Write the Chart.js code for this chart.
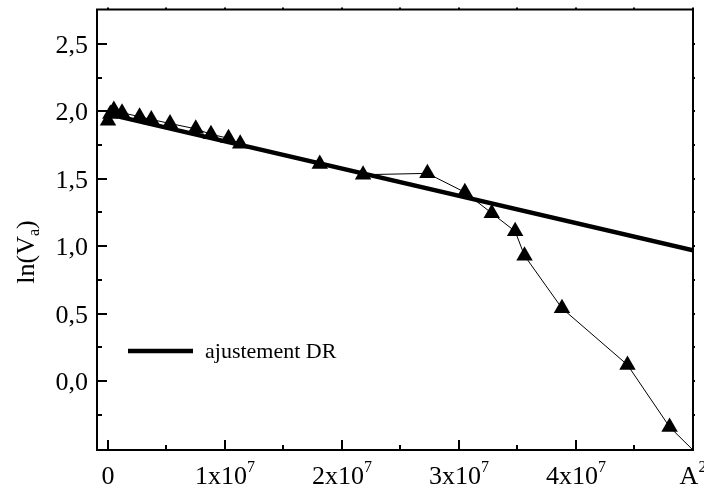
<!DOCTYPE html>
<html><head><meta charset="utf-8">
<script src="https://cdn.jsdelivr.net/npm/chart.js@4"></script>
<style>html,body{margin:0;padding:0;background:#fff}#wrap{width:704px;height:490px}</style>
</head><body><div id="wrap"><canvas id="c" width="704" height="490"></canvas></div>
<script>
// measured series: x = A^2, y = ln(Va)
const xData = [0.000e7, 0.020e7, 0.050e7, 0.120e7, 0.270e7, 0.370e7, 0.530e7, 0.750e7, 0.880e7, 1.030e7, 1.130e7, 1.810e7, 2.180e7, 2.730e7, 3.050e7, 3.280e7, 3.480e7, 3.560e7, 3.880e7, 4.440e7, 4.800e7, 5.150e7];
const yData = [1.93, 1.98, 2.01, 1.99, 1.96, 1.94, 1.91, 1.87, 1.83, 1.80, 1.76, 1.61, 1.53, 1.54, 1.40, 1.245, 1.11, 0.93, 0.54, 0.12, -0.34, -0.64];
// fit line "ajustement DR"
const fitX = [0.02e7, 5.0e7];
const fitY = [1.976, 0.97];
const legendLabel = 'ajustement DR';
// ticks
const xTickValues = [0, 1e7, 2e7, 3e7, 4e7];
const xTickLabels = ['0', '1x10', '2x10', '3x10', '4x10'];
const xTickExponents = ['', '7', '7', '7', '7'];
const xMajorTicks = [0, 1e7, 2e7, 3e7, 4e7, 5e7];
const xMinorTicks = [0.5e7, 1.5e7, 2.5e7, 3.5e7, 4.5e7];
const xTitle = 'A';
const xTitleExp = '2';
const yTickValues = [0, 0.5, 1.0, 1.5, 2.0, 2.5];
const yTickLabels = ['0,0', '0,5', '1,0', '1,5', '2,0', '2,5'];
const yMinorTicks = [-0.25, 0.25, 0.75, 1.25, 1.75, 2.25];
const yTitle = 'ln(V';
const yTitleSub = 'a';
const yTitleEnd = ')';

const FONT = '"Liberation Serif", "Times New Roman", serif';
const BIG = '26px ' + FONT;
const SMALL = '16px ' + FONT;

const framePlugin = {
  id: 'frame',
  afterDraw(chart) {
    const ctx = chart.ctx;
    const a = chart.chartArea;
    const xs = chart.scales.x, ys = chart.scales.y;
    ctx.save();
    ctx.strokeStyle = '#000';
    ctx.fillStyle = '#000';
    // frame
    ctx.lineWidth = 2;
    ctx.strokeRect(a.left, a.top, a.right - a.left, a.bottom - a.top);
    // ticks (inward on left/bottom)
    ctx.beginPath();
    xMajorTicks.forEach(v => { const p = Math.round(xs.getPixelForValue(v)); ctx.moveTo(p, a.bottom); ctx.lineTo(p, a.bottom - 10); ctx.moveTo(p, a.top); ctx.lineTo(p, a.top - 2); });
    xMinorTicks.forEach(v => { const p = Math.round(xs.getPixelForValue(v)); ctx.moveTo(p, a.bottom); ctx.lineTo(p, a.bottom - 5); ctx.moveTo(p, a.top); ctx.lineTo(p, a.top - 2); });
    yTickValues.forEach(v => { const p = Math.round(ys.getPixelForValue(v)); ctx.moveTo(a.left, p); ctx.lineTo(a.left + 10, p); ctx.moveTo(a.right, p); ctx.lineTo(a.right + 2, p); });
    yMinorTicks.forEach(v => { const p = Math.round(ys.getPixelForValue(v)); ctx.moveTo(a.left, p); ctx.lineTo(a.left + 5, p); ctx.moveTo(a.right, p); ctx.lineTo(a.right + 2, p); });
    ctx.stroke();
    // y tick labels
    ctx.font = BIG;
    ctx.textAlign = 'right';
    ctx.textBaseline = 'alphabetic';
    yTickValues.forEach((v, i) => {
      const p = ys.getPixelForValue(v);
      ctx.fillText(yTickLabels[i], a.left - 9, p + 9);
    });
    // x tick labels with superscript
    const base = a.bottom + 34;
    const drawSup = (main, sup, cx) => {
      ctx.font = BIG;
      const w1 = ctx.measureText(main).width;
      ctx.font = SMALL;
      const w2 = sup ? ctx.measureText(sup).width : 0;
      const left = cx - (w1 + w2) / 2;
      ctx.textAlign = 'left';
      ctx.font = BIG;
      ctx.fillText(main, left, base);
      if (sup) { ctx.font = SMALL; ctx.fillText(sup, left + w1, base - 12); }
    };
    xTickValues.forEach((v, i) => drawSup(xTickLabels[i], xTickExponents[i], xs.getPixelForValue(v)));
    drawSup(xTitle, xTitleExp, xs.getPixelForValue(5e7));
    // y title (rotated)
    ctx.save();
    ctx.translate(34, 252);
    ctx.rotate(-Math.PI / 2);
    ctx.font = BIG;
    const t1 = ctx.measureText(yTitle).width;
    ctx.font = SMALL;
    const t2 = ctx.measureText(yTitleSub).width;
    ctx.font = BIG;
    const t3 = ctx.measureText(yTitleEnd).width;
    const x0 = -(t1 + t2 + t3) / 2;
    ctx.textAlign = 'left';
    ctx.fillText(yTitle, x0, 0);
    ctx.font = SMALL;
    ctx.fillText(yTitleSub, x0 + t1, 5);
    ctx.font = BIG;
    ctx.fillText(yTitleEnd, x0 + t1 + t2, 0);
    ctx.restore();
    // legend
    ctx.lineWidth = 4.5;
    ctx.beginPath();
    ctx.moveTo(128, 351); ctx.lineTo(193, 351);
    ctx.stroke();
    ctx.font = '22px ' + FONT;
    ctx.textAlign = 'left';
    ctx.fillText(legendLabel, 205, 358);
    ctx.restore();
  }
};

new Chart(document.getElementById('c'), {
  type: 'line',
  data: {
    datasets: [
      {
        label: legendLabel,
        data: fitX.map((x, i) => ({ x, y: fitY[i] })),
        borderColor: '#000', borderWidth: 4.5, pointRadius: 0, tension: 0, fill: false, order: 2, clip: 0
      },
      {
        label: 'ln(Va)',
        data: xData.map((x, i) => ({ x, y: yData[i] })),
        borderColor: '#000', borderWidth: 1, backgroundColor: '#000',
        pointStyle: 'triangle', pointRadius: 9.5, pointBorderWidth: 0,
        pointBackgroundColor: '#000', tension: 0, fill: false, order: 1, clip: 0
      }
    ]
  },
  options: {
    responsive: false, animation: false,
    layout: { padding: { left: 97, top: 9, right: 11, bottom: 40 } },
    scales: {
      x: { type: 'linear', display: false, min: -0.094e7, max: 5.0e7 },
      y: { type: 'linear', display: false, min: -0.511, max: 2.755 }
    },
    plugins: { legend: { display: false }, tooltip: { enabled: false } }
  },
  plugins: [framePlugin]
});
</script></body></html>
